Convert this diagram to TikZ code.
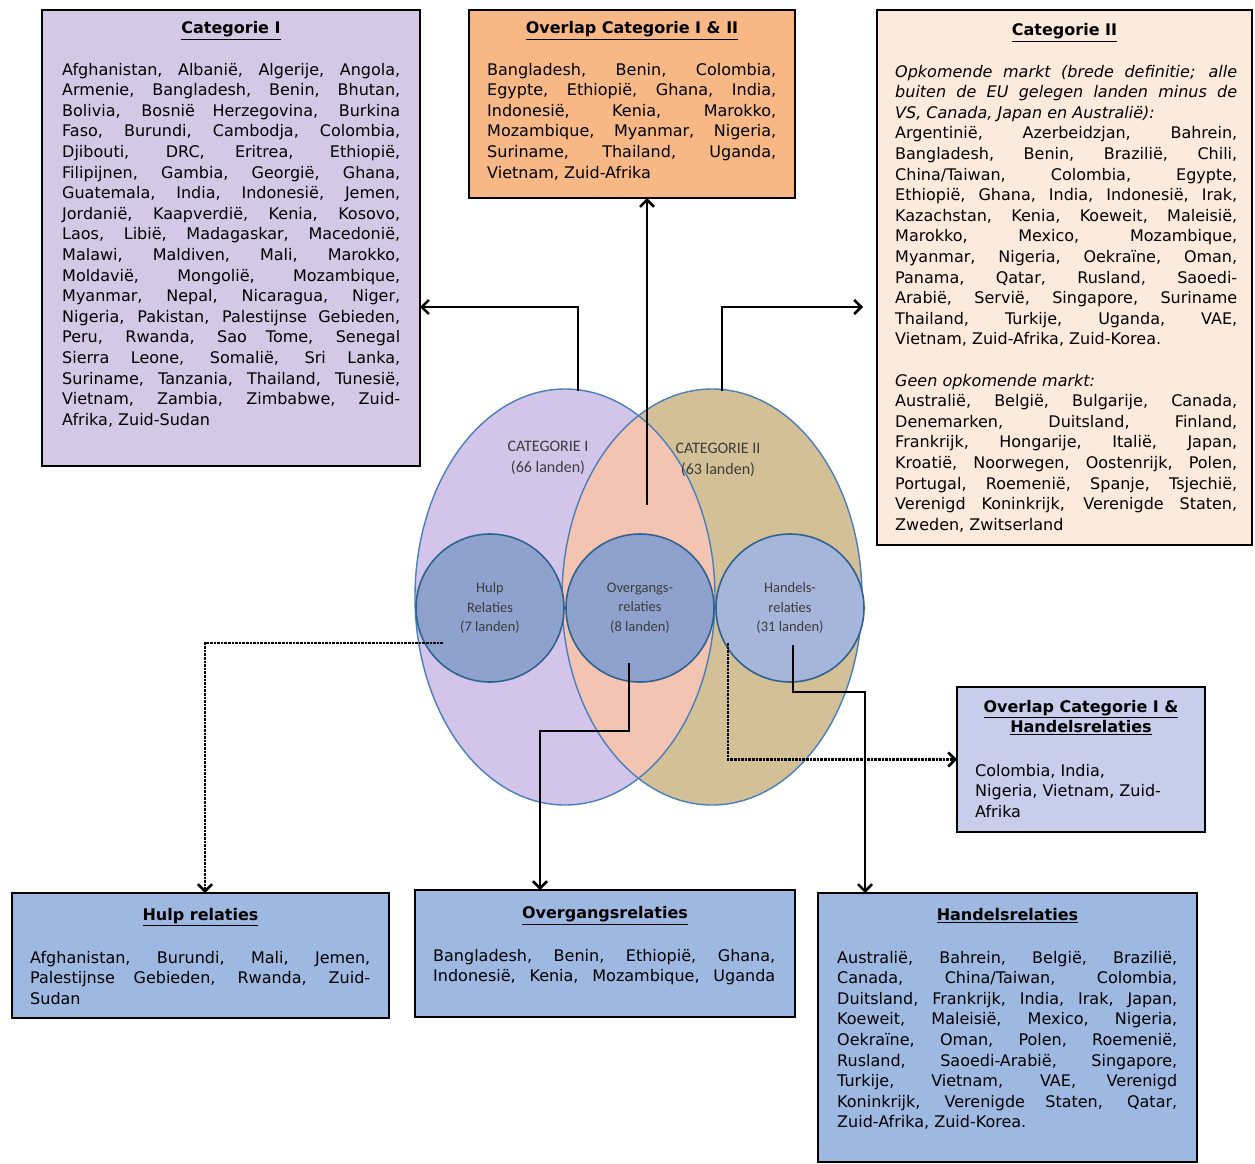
\documentclass[tikz,border=0pt]{standalone}
\usepackage{fontspec}
\newfontfamily\boxfont{DejaVu Sans}
\newfontfamily\vennfont{Carlito}
\usetikzlibrary{positioning,arrows.meta}
\definecolor{catIfill}{HTML}{D3C9E6}
\definecolor{ovIIIfill}{HTML}{F7B886}
\definecolor{catIIfill}{HTML}{FCEBDC}
\definecolor{ovhfill}{HTML}{C7CDEB}
\definecolor{relfill}{HTML}{9DB8E1}
\definecolor{venIfill}{HTML}{D3C5EA}
\definecolor{venIIfill}{HTML}{D3C096}
\definecolor{overlapfill}{HTML}{F4C4B2}
\definecolor{vennline}{HTML}{4A7EBB}
\definecolor{circlefill}{HTML}{8FA2CD}
\definecolor{handfill}{HTML}{A6B5DA}
\definecolor{circleline}{HTML}{30628F}
\definecolor{vennlabel}{HTML}{3C3C3C}
\newcommand{\listfont}{\boxfont\fontsize{16}{20.6}\selectfont\tolerance=10000\hyphenpenalty=10000\relax}
\newcommand{\titlefont}{\boxfont\bfseries\fontsize{16}{20.4}\selectfont}
\tikzset{listbox/.style={draw=black,line width=2.4pt,inner sep=0pt,outer sep=0pt},
        boxtitle/.style={font=\titlefont,inner sep=0pt,align=center},
        boxtext/.style={font=\listfont,text width=#1,align=justify,anchor=north west,inner sep=0pt},
        setcircle/.style={circle,draw=circleline,line width=1.6pt,minimum size=148pt,inner sep=0pt,
        align=center,font=\vennfont\fontsize{14.5}{19.5}\selectfont,text=vennlabel},
        link/.style={line width=2.6pt,-{Straight Barb[length=7pt,width=14pt]}},
        dotlink/.style={link,densely dotted}}

\begin{document}
\begin{tikzpicture}[x=1pt,y=-1pt]
  \useasboundingbox (0,0) rectangle (1255,1164);
  % venn diagram
  \fill[venIfill] (565,597) ellipse [x radius=150pt,y radius=208pt];
  \fill[venIIfill] (712,597) ellipse [x radius=150pt,y radius=208pt];
  \begin{scope}
    \clip (565,597) ellipse [x radius=150pt,y radius=208pt];
    \fill[overlapfill] (712,597) ellipse [x radius=150pt,y radius=208pt];
  \end{scope}
  \draw[vennline,line width=1.4pt] (565,597) ellipse [x radius=150pt,y radius=208pt];
  \draw[vennline,line width=1.4pt] (712,597) ellipse [x radius=150pt,y radius=208pt];
  \node[font=\vennfont\fontsize{16}{21}\selectfont,text=vennlabel,align=center] (catIlabel) at (548,458) {CATEGORIE I\\(66 landen)};
  \node[font=\vennfont\fontsize{16}{21}\selectfont,text=vennlabel,align=center] (catIIlabel) at (718,460) {CATEGORIE II\\(63 landen)};
  \node[setcircle,fill=circlefill] (hulp) at (490,608) {Hulp\\Relaties\\(7 landen)};
  \node[setcircle,fill=circlefill] (overgang) at (640,608) {Overgangs-\\relaties\\(8 landen)};
  \node[setcircle,fill=handfill] (handel) at (790,608) {Handels-\\relaties\\(31 landen)};

  % boxes
  \node[listbox,fill=catIfill,minimum width=378pt,minimum height=456pt] (catI) at (231,238) {};
  \node[boxtitle,below=11.5pt of catI.north] (catItitle) {\underline{Categorie I}};
  \node[boxtext=338pt] (catItext) at (62,60.5) {\strut Afghanistan, Albanië, Algerije, Angola,\linebreak
    Armenie, Bangladesh, Benin, Bhutan,\linebreak Bolivia, Bosnië Herzegovina, Burkina\linebreak
    Faso, Burundi, Cambodja, Colombia,\linebreak Djibouti, DRC, Eritrea, Ethiopië,\linebreak
    Filipijnen, Gambia, Georgië, Ghana,\linebreak Guatemala, India, Indonesië, Jemen,\linebreak
    Jordanië, Kaapverdië, Kenia, Kosovo,\linebreak Laos, Libië, Madagaskar, Macedonië,\linebreak
    Malawi, Maldiven, Mali, Marokko,\linebreak Moldavië, Mongolië, Mozambique,\linebreak
    Myanmar, Nepal, Nicaragua, Niger,\linebreak Nigeria, Pakistan, Palestijnse Gebieden,\linebreak
    Peru, Rwanda, Sao Tome, Senegal\linebreak Sierra Leone, Somalië, Sri Lanka,\linebreak
    Suriname, Tanzania, Thailand, Tunesië,\linebreak Vietnam, Zambia, Zimbabwe, Zuid-\linebreak
    Afrika, Zuid-Sudan};

  \node[listbox,fill=ovIIIfill,minimum width=326pt,minimum height=188pt] (ovIII) at (632,104) {};
  \node[boxtitle,below=11.5pt of ovIII.north] (ovIIItitle) {\underline{Overlap Categorie I \& II}};
  \node[boxtext=289pt] (ovIIItext) at (487,60.5) {\strut Bangladesh, Benin, Colombia,\linebreak
    Egypte, Ethiopië, Ghana, India,\linebreak Indonesië, Kenia, Marokko,\linebreak
    Mozambique, Myanmar, Nigeria,\linebreak Suriname, Thailand, Uganda,\linebreak
    Vietnam, Zuid-Afrika};

  \node[listbox,fill=catIIfill,minimum width=375pt,minimum height=535pt] (catII) at (1064.5,277.5) {};
  \node[boxtitle,below=13.5pt of catII.north] (catIItitle) {\underline{Categorie II}};
  \node[boxtext=342pt] (catIItext) at (895,62.5) {{\itshape\strut Opkomende markt (brede definitie; alle\linebreak
    buiten de EU gelegen landen minus de\linebreak VS, Canada, Japan en Australië):\par}
    Argentinië, Azerbeidzjan, Bahrein,\linebreak Bangladesh, Benin, Brazilië, Chili,\linebreak
    China/Taiwan, Colombia, Egypte,\linebreak Ethiopië, Ghana, India, Indonesië, Irak,\linebreak
    Kazachstan, Kenia, Koeweit, Maleisië,\linebreak Marokko, Mexico, Mozambique,\linebreak
    Myanmar, Nigeria, Oekraïne, Oman,\linebreak Panama, Qatar, Rusland, Saoedi-\linebreak
    Arabië, Servië, Singapore, Suriname\linebreak Thailand, Turkije, Uganda, VAE,\linebreak
    Vietnam, Zuid-Afrika, Zuid-Korea.\par\vskip20.6pt
    {\itshape Geen opkomende markt:\par}
    Australië, België, Bulgarije, Canada,\linebreak Denemarken, Duitsland, Finland,\linebreak
    Frankrijk, Hongarije, Italië, Japan,\linebreak Kroatië, Noorwegen, Oostenrijk, Polen,\linebreak
    Portugal, Roemenië, Spanje, Tsjechië,\linebreak Verenigd Koninkrijk, Verenigde Staten,\linebreak
    Zweden, Zwitserland};

  \node[listbox,fill=ovhfill,minimum width=248pt,minimum height=145pt] (ovh) at (1081,759.5) {};
  \node[boxtitle,below=13pt of ovh.north] (ovhtitle) {\underline{Overlap Categorie I \&}\\\underline{Handelsrelaties}};
  \node[font=\listfont,align=left,anchor=north west,inner sep=0pt] (ovhtext) at (975,761.5)
    {\strut Colombia, India,\\Nigeria, Vietnam, Zuid-\\Afrika};

  \node[listbox,fill=relfill,minimum width=377pt,minimum height=125pt] (hulpbox) at (200.5,955.5) {};
  \node[boxtitle,below=15.5pt of hulpbox.north] (hulptitle) {\underline{Hulp relaties}};
  \node[boxtext=340pt] (hulptext) at (30,948.5) {\strut Afghanistan, Burundi, Mali, Jemen,\linebreak
    Palestijnse Gebieden, Rwanda, Zuid-\linebreak Sudan};

  \node[listbox,fill=relfill,minimum width=380pt,minimum height=127pt] (ovgbox) at (605,953.5) {};
  \node[boxtitle,below=16.5pt of ovgbox.north] (ovgtitle) {\underline{Overgangsrelaties}};
  \node[boxtext=342pt] (ovgtext) at (433,946.5) {\strut Bangladesh, Benin, Ethiopië, Ghana,\linebreak
    Indonesië, Kenia, Mozambique, Uganda\linebreak\mbox{}};

  \node[listbox,fill=relfill,minimum width=379pt,minimum height=269pt] (hanbox) at (1007.5,1027.5) {};
  \node[boxtitle,below=15.5pt of hanbox.north] (hantitle) {\underline{Handelsrelaties}};
  \node[boxtext=340pt] (hantext) at (837,948.5) {\strut Australië, Bahrein, België, Brazilië,\linebreak
    Canada, China/Taiwan, Colombia,\linebreak Duitsland, Frankrijk, India, Irak, Japan,\linebreak
    Koeweit, Maleisië, Mexico, Nigeria,\linebreak Oekraïne, Oman, Polen, Roemenië,\linebreak
    Rusland, Saoedi-Arabië, Singapore,\linebreak Turkije, Vietnam, VAE, Verenigd\linebreak
    Koninkrijk, Verenigde Staten, Qatar,\linebreak Zuid-Afrika, Zuid-Korea.};

  % connectors
  \coordinate (venItop) at (578,391);
  \coordinate (venIItop) at (722,391);
  \coordinate (ovstart) at (647,505);
  \coordinate (hulpout) at (443,643);
  \coordinate (ovgout) at (629,663);
  \coordinate (hanout) at (793,645);
  \coordinate (ovhout) at (728,643);
  \draw[link] (venItop) |- (catI.east |- 0,307);
  \draw[link] (ovstart) -- (ovstart |- ovIII.south);
  \draw[link,shorten >=14pt] (venIItop) |- (catII.west |- 0,307);
  \draw[dotlink] (hulpout) -| (hulpbox.north -| 205,0);
  \draw[link] (ovgout) -- (629,731) -| (ovgbox.north -| 540,0);
  \draw[link] (hanout) -- (793,692) -| (hanbox.north -| 865,0);
  \draw[dotlink] (ovhout) |- (ovh.west);
\end{tikzpicture}
\end{document}
